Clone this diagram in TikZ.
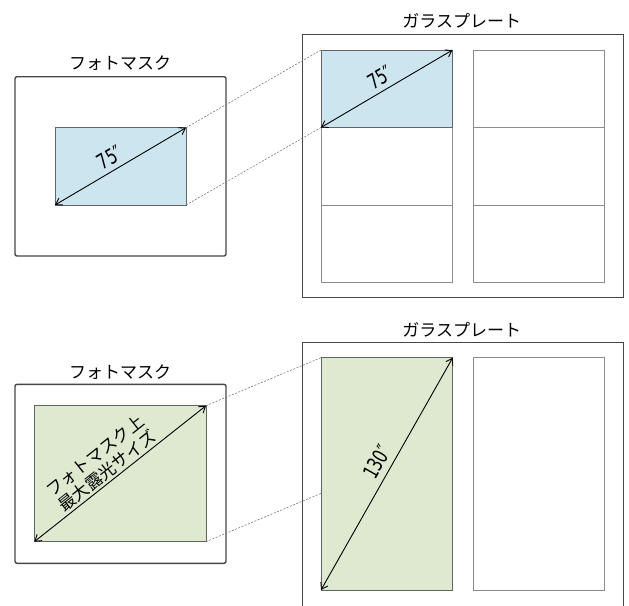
\documentclass[tikz,border=0pt]{standalone}
\usepackage{fontspec}
\usepackage{graphicx}
\usepackage{tikz}
\usetikzlibrary{arrows.meta,calc,positioning}
\newfontfamily\jpfont{Noto Sans CJK JP}
\newfontfamily\numfont{DejaVu Sans}
\newcommand{\narrow}[1]{\scalebox{0.72}[1]{#1}}
\definecolor{PMLine}{HTML}{474747}
\definecolor{PMCell}{HTML}{8C8C8C}
\definecolor{PMBlue}{HTML}{CDE5EF}
\definecolor{PMGreen}{HTML}{DFE9CF}
\definecolor{PMGuide}{HTML}{7A7A7A}

\begin{document}
\begin{tikzpicture}[
  x=1pt,y=-1pt,
  title/.style={font=\jpfont\fontsize{17}{20}\selectfont,inner sep=0pt},
  mask/.style={rectangle,draw=PMLine,line width=1.4pt,rounded corners=2pt,inner sep=0pt,outer sep=0pt,anchor=north west},
  plate/.style={draw=PMLine,line width=1.4pt},
  area/.style={rectangle,draw=PMLine!85,line width=0.9pt,inner sep=0pt,outer sep=0pt,anchor=north west},
  cell/.style={rectangle,draw=PMCell,line width=0.9pt,inner sep=0pt,outer sep=0pt,anchor=north west},
  dimline/.style={<->,>={Straight Barb[length=6pt,width=8pt]},line width=0.9pt,draw=black},
  guide/.style={draw=PMGuide,line width=0.6pt,dash pattern=on 2pt off 1.5pt},
  dimtext/.style={font=\numfont\fontsize{21}{22}\selectfont,sloped,inner sep=0pt},
  sizetext/.style={font=\jpfont\fontsize{17}{19.5}\selectfont,sloped,align=center,inner sep=0pt}
]
\useasboundingbox (0,0) rectangle (629,605);

% upper: 75" shot
\node[title] (masktitle1) at (120,63) {フォトマスク};
\node[title] (platetitle1) at (461.7,20.7) {ガラスプレート};
\node[mask,minimum width=211pt,minimum height=179.3pt] (mask1) at (15,76.7) {};
\node[area,fill=PMBlue,minimum width=131pt,minimum height=77.3pt] (maskin1) at (55,127.7) {};
\node[plate,rectangle,inner sep=0pt,outer sep=0pt,anchor=north west,minimum width=321pt,minimum height=263.4pt] (plate1) at (302.3,34.3) {};
\node[area,fill=PMBlue,minimum width=131.5pt,minimum height=77.5pt] (shot1) at (321,50) {};
\foreach \c/\x in {A/321,B/473.3} {
  \foreach \r/\y in {1/50,2/127.5,3/205} {
    \node[cell,minimum width=131.5pt,minimum height=77.5pt] (cell\c\r) at (\x,\y) {};
  }
}
\draw[area] (shot1.south west) -- (shot1.north west) -- (shot1.north east) -- (shot1.south east) -- cycle;

\draw[guide] (maskin1.north east) -- (shot1.north west);
\draw[guide] (maskin1.south east) -- (shot1.south west);
\draw[dimline] (maskin1.south west) -- node[dimtext,pos=0.47,above=5pt] {\narrow{75″}} (maskin1.north east);
\draw[dimline] (shot1.south west) -- node[dimtext,pos=0.5,above=5pt] {\narrow{75″}} (shot1.north east);

% lower: 130" shot
\node[title] (masktitle2) at (120,371.7) {フォトマスク};
\node[title] (platetitle2) at (461.7,330) {ガラスプレート};
\node[mask,minimum width=211pt,minimum height=179pt] (mask2) at (15,384.3) {};
\node[area,fill=PMGreen,minimum width=171.7pt,minimum height=136pt] (maskin2) at (34.3,405.7) {};
\coordinate (plate2) at (302.3,342.3);
\draw[plate] (302.3,606) -- (plate2) -- (623.3,342.3) -- (623.3,606);
\node[area,fill=PMGreen,minimum width=131.7pt,minimum height=232.3pt] (shot2) at (321,357.7) {};
\node[cell,minimum width=131pt,minimum height=232.3pt] (cellB) at (473.3,357.7) {};
\coordinate (hit2) at ($(shot2.north west)!0.584!(shot2.south west)$);

\draw[guide] (maskin2.north east) -- (shot2.north west);
\draw[guide] (maskin2.south east) -- (hit2);
\draw[dimline] (maskin2.south west) -- node[sizetext,pos=0.46,above=2pt] {フォトマスク上\\最大露光サイズ} (maskin2.north east);
\draw[dimline] (shot2.south west) -- node[dimtext,pos=0.52,above=6pt] {\narrow{130″}} (shot2.north east);
\end{tikzpicture}
\end{document}
